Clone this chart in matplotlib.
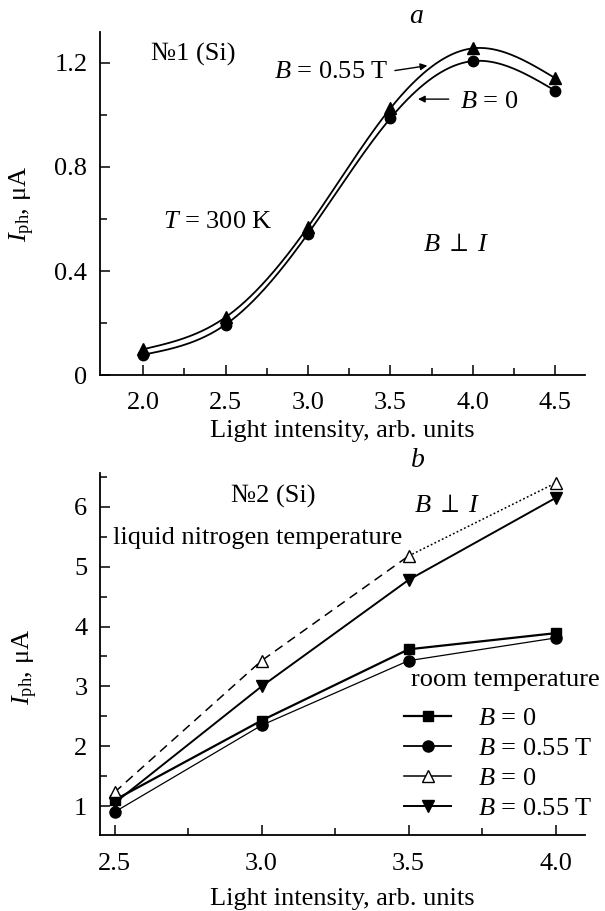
import numpy as np
import matplotlib
matplotlib.use("Agg")
import matplotlib.pyplot as plt
from matplotlib.lines import Line2D

plt.rcParams['font.family'] = ['Liberation Serif', 'DejaVu Serif']
plt.rcParams['mathtext.fontset'] = 'custom'
plt.rcParams['mathtext.rm'] = 'Liberation Serif'
plt.rcParams['mathtext.it'] = 'Liberation Serif:italic'
plt.rcParams['mathtext.fallback'] = 'stix'

# ---- panel a data ----
xa = [2.0, 2.5, 3.0, 3.5, 4.0, 4.5]
a_B0 = [0.079, 0.195, 0.544, 0.987, 1.206, 1.092]
a_B055 = [0.100, 0.223, 0.570, 1.025, 1.255, 1.140]
xa_ticks = [2.0, 2.5, 3.0, 3.5, 4.0, 4.5]
ya_ticks = [0, 0.4, 0.8, 1.2]
ya_ticklabels = ['0', '0.4', '0.8', '1.2']

# ---- panel b data ----
xb = [2.5, 3.0, 3.5, 4.0]
b_room_B0 = [1.10, 2.43, 3.62, 3.89]
b_room_B055 = [0.90, 2.35, 3.43, 3.81]
b_ln_B0 = [1.23, 3.43, 5.18, 6.40]
b_ln_B055 = [1.05, 3.00, 4.78, 6.15]
xb_ticks = [2.5, 3.0, 3.5, 4.0]
yb_ticks = [1, 2, 3, 4, 5, 6]


def natural_spline(x, y, xs):
    x = np.asarray(x, float); y = np.asarray(y, float)
    n = len(x)
    h = np.diff(x)
    A = np.zeros((n, n)); r = np.zeros(n)
    A[0, 0] = 1; A[-1, -1] = 1
    for i in range(1, n - 1):
        A[i, i - 1] = h[i - 1]
        A[i, i] = 2 * (h[i - 1] + h[i])
        A[i, i + 1] = h[i]
        r[i] = 3 * ((y[i + 1] - y[i]) / h[i] - (y[i] - y[i - 1]) / h[i - 1])
    c = np.linalg.solve(A, r)
    b = np.zeros(n - 1); d = np.zeros(n - 1)
    for i in range(n - 1):
        b[i] = (y[i + 1] - y[i]) / h[i] - h[i] * (2 * c[i] + c[i + 1]) / 3
        d[i] = (c[i + 1] - c[i]) / (3 * h[i])
    idx = np.clip(np.searchsorted(x, xs) - 1, 0, n - 2)
    t = xs - x[idx]
    return y[idx] + b[idx] * t + c[idx] * t ** 2 + d[idx] * t ** 3


fig = plt.figure(figsize=(6.05, 9.11), dpi=100)
FS = 19

def style(ax, xpad):
    for s in ['top', 'right']:
        ax.spines[s].set_visible(False)
    for s in ['left', 'bottom']:
        ax.spines[s].set_linewidth(1.3)
    ax.tick_params(which='both', direction='in', labelsize=FS, width=1.1)
    ax.tick_params(which='major', length=7)
    ax.tick_params(which='minor', length=5)
    ax.tick_params(axis='x', pad=xpad)
    ax.tick_params(axis='y', pad=9)

# ---- panel a ----
ax1 = fig.add_axes([0.165, 0.588, 0.802, 0.377])
style(ax1, 12)
xs = np.linspace(2.0, 4.5, 300)
ax1.plot(xs, natural_spline(xa, a_B055, xs), color='black', lw=1.3)
ax1.plot(xs, natural_spline(xa, a_B0, xs), color='black', lw=1.3)
ax1.plot(xa, a_B055, linestyle='none', marker='^', color='black', ms=8)
ax1.plot(xa, a_B0, linestyle='none', marker='o', color='black', ms=7.5)
ax1.set_xlim(1.737, 4.68)
ax1.set_ylim(0, 1.318)
ax1.set_xticks(xa_ticks)
ax1.set_xticklabels([f'{v:.1f}' for v in xa_ticks])
ax1.set_xticks(np.arange(2.25, 4.5, 0.5), minor=True)
ax1.set_yticks(ya_ticks)
ax1.set_yticklabels(ya_ticklabels)
ax1.set_yticks([0.2, 0.6, 1.0], minor=True)
ax1.set_xlabel('Light intensity, arb. units', fontsize=FS)
ax1.set_ylabel(r'$I_{\mathrm{ph}}$, μA', fontsize=FS)
ax1.xaxis.set_label_coords(0.5, -0.13)
ax1.yaxis.set_label_coords(-0.130, 0.5)
ax1.text(3.66, 1.376, r'$a$', fontsize=FS + 1, ha='center', va='center', clip_on=False)
ax1.text(2.05, 1.23, '№1 (Si)', fontsize=FS, ha='left', va='center')
ax1.text(3.49, 1.165, r'$B$ = 0.55 T', fontsize=FS, ha='right', va='center')
ax1.annotate('', xy=(3.74, 1.19), xytext=(3.51, 1.168),
             arrowprops=dict(arrowstyle='-|>', color='black', lw=1.0, mutation_scale=10))
ax1.text(3.92, 1.05, r'$B$ = 0', fontsize=FS, ha='left', va='center')
ax1.annotate('', xy=(3.65, 1.06), xytext=(3.87, 1.06),
             arrowprops=dict(arrowstyle='-|>', color='black', lw=1.0, mutation_scale=10))
ax1.text(2.12, 0.59, r'$T$ = 300 K', fontsize=FS, ha='left', va='center')
ax1.text(3.70, 0.50, r'$B\ \perp\ I$', fontsize=FS, ha='left', va='center')

# ---- panel b ----
ax2 = fig.add_axes([0.165, 0.083, 0.802, 0.398])
style(ax2, 13)
ax2.plot(xb, b_room_B0, color='black', lw=1.6, marker='s', ms=7)
ax2.plot(xb, b_room_B055, color='black', lw=0.9, marker='o', ms=8)
ax2.plot(xb[:3], b_ln_B0[:3], color='black', lw=1.1, linestyle=(0, (6, 4)))
ax2.plot(xb[2:], b_ln_B0[2:], color='black', lw=1.1, linestyle=(0, (1.2, 1.5)))
ax2.plot(xb, b_ln_B0, linestyle='none', marker='^', ms=9, mfc='white', mec='black', mew=1.0)
ax2.plot(xb, b_ln_B055, color='black', lw=1.4, marker='v', ms=9)
ax2.set_xlim(2.45, 4.10)
ax2.set_ylim(0.51, 6.57)
ax2.set_xticks(xb_ticks)
ax2.set_xticklabels([f'{v:.1f}' for v in xb_ticks])
ax2.set_xticks([2.75, 3.25, 3.75], minor=True)
ax2.set_yticks(yb_ticks)
ax2.set_yticks(np.arange(1.5, 6.6, 1.0), minor=True)
ax2.set_xlabel('Light intensity, arb. units', fontsize=FS)
ax2.set_ylabel(r'$I_{\mathrm{ph}}$, μA', fontsize=FS)
ax2.xaxis.set_label_coords(0.5, -0.145)
ax2.yaxis.set_label_coords(-0.124, 0.465)
ax2.text(3.53, 6.78, r'$b$', fontsize=FS + 1, ha='center', va='center', clip_on=False)
ax2.text(3.04, 6.18, '№2 (Si)', fontsize=FS, ha='center', va='center')
ax2.text(3.52, 6.02, r'$B\ \perp\ I$', fontsize=FS, ha='left', va='center')
ax2.text(2.496, 5.48, 'liquid nitrogen temperature', fontsize=FS, ha='left', va='center')
ax2.text(3.507, 3.11, 'room temperature', fontsize=FS, ha='left', va='center', clip_on=False)

handles = [
    Line2D([], [], color='black', lw=1.6, marker='s', ms=7),
    Line2D([], [], color='black', lw=1.3, marker='o', ms=8),
    Line2D([], [], color='black', lw=1.1, marker='^', ms=9, mfc='white', mec='black'),
    Line2D([], [], color='black', lw=1.4, marker='v', ms=9),
]
labels = [r'$B$ = 0', r'$B$ = 0.55 T', r'$B$ = 0', r'$B$ = 0.55 T']
ax2.legend(handles, labels, loc='upper left', bbox_to_anchor=(0.605, 0.385),
           frameon=False, fontsize=FS, handlelength=1.8, handletextpad=1.0,
           labelspacing=0.25, borderaxespad=0)

fig.savefig('out.png', dpi=100)
